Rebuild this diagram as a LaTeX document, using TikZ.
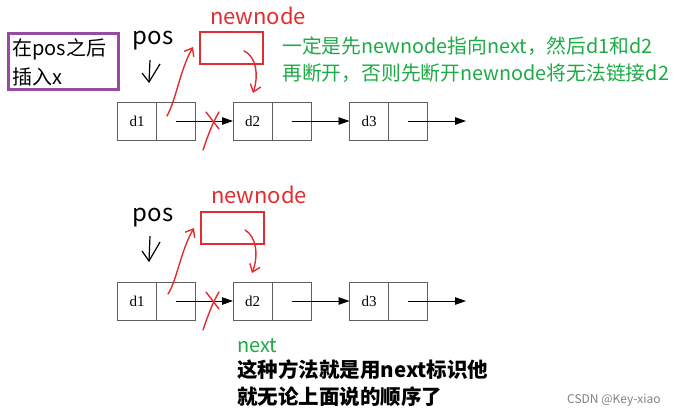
\documentclass[tikz,border=0pt]{standalone}
\usepackage{fontspec}
\setmainfont{Noto Sans CJK SC}
\newfontfamily\cjk{Noto Sans CJK SC}
\newfontfamily\lat{Liberation Serif}
\usetikzlibrary{arrows.meta}
\definecolor{myred}{RGB}{225,45,50}
\definecolor{mygreen}{RGB}{30,170,70}
\definecolor{mypurple}{RGB}{150,75,160}
\definecolor{boxgray}{RGB}{95,95,95}
\tikzset{
  cell/.style={draw=boxgray, line width=1pt, minimum width=39pt, minimum height=38pt, inner sep=0pt, outer sep=0pt, font=\lat\fontsize{15}{15}\selectfont},
  link/.style={line width=0.9pt, -{Triangle[length=11pt,width=7.5pt]}},
  redbox/.style={draw=myred, line width=2pt, minimum width=63pt, minimum height=32pt, inner sep=0pt},
  hand/.style={draw=myred, line width=1.4pt, line cap=round},
  handarrow/.style={hand, -{Straight Barb[length=7pt,width=11pt]}},
  lbl/.style={inner sep=0pt, anchor=west},
}
\begin{document}
\begin{tikzpicture}[x=1pt,y=-1pt]
\useasboundingbox (0,0) rectangle (684,416);
% purple note
\node[draw=mypurple, line width=3pt, minimum width=110pt, minimum height=56pt, inner sep=0pt] (note) at (63,61) {};
\node[lbl, align=left, font=\fontsize{20}{29}\selectfont] (notetext) at (12,62) {在pos之后\\插入x};

% green note
\node[lbl, align=left, text=mygreen, font=\fontsize{19.8}{27}\selectfont] (green) at (282,60) {一定是先newnode指向next，然后d1和d2\\再断开，否则先断开newnode将无法链接d2};

% ===== top row =====
\node[text=myred, font=\fontsize{22}{22}\selectfont, inner sep=0pt] (nn1) at (258,16) {newnode};
\node[redbox] (box1) at (231.5,48) {};
\node[font=\fontsize{24}{24}\selectfont, inner sep=0pt] (pos1) at (153,41) {pos};
\coordinate (pa1) at (150,60);
\coordinate (pb1) at (149,82);
\draw[line width=1.2pt] (pa1) -- (pb1);
\draw[line width=1.2pt] (142,73) -- (pb1) -- (160,64);

\node[cell] (d1a) at (137,121) {d1};
\node[cell] (d1b) at (176,121) {};
\node[cell] (d2a) at (252.5,121) {d2};
\node[cell] (d2b) at (291.5,121) {};
\node[cell] (d3a) at (369,121) {d3};
\node[cell] (d3b) at (408,121) {};
\coordinate (end1) at (466,121);
\draw[link] (d1b.center) -- (d2a.west);
\draw[link] (d2b.center) -- (d3a.west);
\draw[link] (d3b.center) -- (end1);

\coordinate (s1) at (167,116);
\coordinate (t1) at (193,47);
\draw[handarrow] (s1) .. controls (176,100) and (180,70) .. (t1);
\coordinate (s2) at (244,51);
\coordinate (t2) at (253,93);
\draw[handarrow] (s2) .. controls (256,56) and (259,75) .. (t2);
\draw[hand] (206,112) -- (219,129);
\draw[hand] (219,112) .. controls (213,122) and (208,135) .. (203,150);

% ===== bottom row =====
\node[text=myred, font=\fontsize{22}{22}\selectfont, inner sep=0pt] (nn2) at (259,195) {newnode};
\node[redbox] (box2) at (232,228) {};
\node[font=\fontsize{24}{24}\selectfont, inner sep=0pt] (pos2) at (153,218) {pos};
\coordinate (pa2) at (150,236);
\coordinate (pb2) at (149,261);
\draw[line width=1.2pt] (pa2) -- (pb2);
\draw[line width=1.2pt] (142,251) -- (pb2) -- (160,242);

\node[cell] (e1a) at (137,301) {d1};
\node[cell] (e1b) at (176,301) {};
\node[cell] (e2a) at (252.5,301) {d2};
\node[cell] (e2b) at (291.5,301) {};
\node[cell] (e3a) at (369,301) {d3};
\node[cell] (e3b) at (408,301) {};
\coordinate (end2) at (466,301);
\draw[link] (e1b.center) -- (e2a.west);
\draw[link] (e2b.center) -- (e3a.west);
\draw[link] (e3b.center) -- (end2);

\coordinate (s3) at (168,294);
\coordinate (t3) at (194,228);
\draw[handarrow] (s3) .. controls (177,280) and (181,250) .. (t3);
\coordinate (s4) at (245,230);
\coordinate (t4) at (252,273);
\draw[handarrow] (s4) .. controls (256,236) and (259,255) .. (t4);
\draw[hand] (206,292) -- (219,309);
\draw[hand] (219,292) .. controls (213,302) and (208,315) .. (203,330);

% bottom text
\node[lbl, text=mygreen, font=\fontsize{20}{20}\selectfont] (nx) at (237,346) {next};
\node[lbl, align=left, font=\bfseries\fontsize{20.5}{27}\selectfont] (expl) at (237,383) {这种方法就是用next标识他\\就无论上面说的顺序了};

\node[lbl, text=gray, font=\fontsize{12}{12}\selectfont] (csdn) at (567,400) {CSDN @Key-xiao};
\end{tikzpicture}
\end{document}
